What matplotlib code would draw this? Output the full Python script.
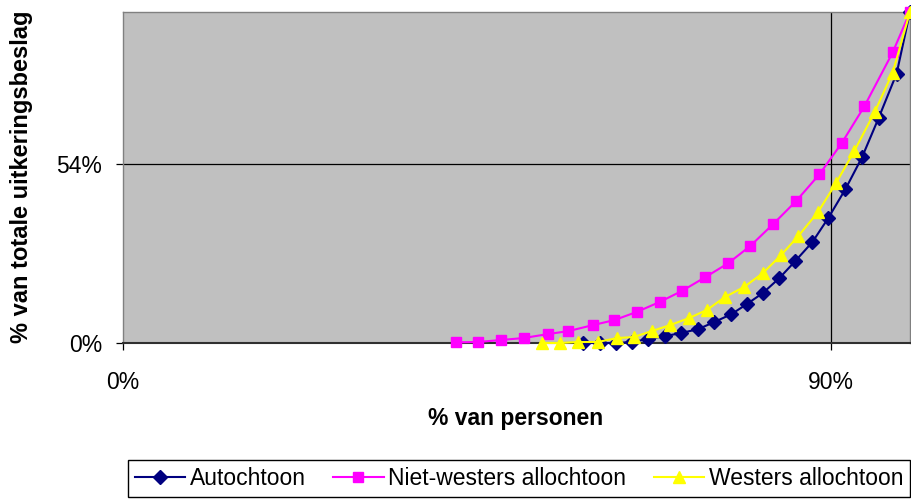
import matplotlib
matplotlib.use("Agg")
import matplotlib.pyplot as plt

plt.rcParams['font.family'] = ['Liberation Sans', 'DejaVu Sans']

# data (percent of persons, percent of total benefits)
auto_x = [58.4, 60.6, 62.6, 64.7, 66.7, 68.9, 70.9, 73.1, 75.1, 77.3, 79.3,
          81.3, 83.4, 85.4, 87.6, 89.6, 91.8, 93.9, 96.0, 98.3, 100.0]
auto_y = [0.0, 0.0, 0.0, 0.3, 1.2, 2.1, 3.0, 4.2, 6.3, 8.7, 11.8,
          15.1, 19.6, 24.7, 30.5, 37.7, 46.5, 56.1, 67.9, 81.4, 100.0]

nw_x = [42.3, 45.1, 48.0, 50.9, 54.0, 56.6, 59.7, 62.4, 65.3, 68.2, 71.0,
        74.0, 76.9, 79.7, 82.6, 85.5, 88.5, 91.3, 94.2, 97.8, 100.0]
nw_y = [0.2, 0.3, 0.9, 1.5, 2.7, 3.6, 5.4, 6.9, 9.4, 12.4, 15.7,
        19.9, 24.1, 29.3, 35.9, 42.8, 51.0, 60.3, 71.5, 87.8, 100.0]

w_x = [53.3, 55.5, 57.8, 60.3, 62.8, 64.9, 67.2, 69.5, 71.9, 74.2, 76.5,
       78.9, 81.3, 83.6, 85.8, 88.3, 90.6, 92.9, 95.5, 97.8, 100.0]
w_y = [0.0, 0.0, 0.3, 0.3, 1.5, 1.8, 3.6, 5.4, 7.5, 10.0, 13.9,
       16.9, 21.1, 26.5, 32.3, 39.5, 48.3, 57.9, 69.7, 81.7, 100.0]

labels = ["Autochtoon", "Niet-westers allochtoon", "Westers allochtoon"]
x_ticks = [0, 90]
y_ticks = [0, 54]

fig = plt.figure(figsize=(9.12, 5.0), dpi=100)
ax = fig.add_axes([123 / 912, 1 - 343 / 500, (910 - 123) / 912, (343 - 12) / 500])
ax.set_facecolor('#C0C0C0')

for v in x_ticks[1:]:
    ax.axvline(v, color='black', lw=0.9, zorder=1)
for v in y_ticks[1:]:
    ax.axhline(v, color='black', lw=0.9, zorder=1)

ax.plot(auto_x, auto_y, color='#000080', marker='D', ms=7, lw=1.5,
        label=labels[0], zorder=3, clip_on=False)
ax.plot(nw_x, nw_y, color='#FF00FF', marker='s', ms=7.5, lw=1.5,
        label=labels[1], zorder=4, clip_on=False)
ax.plot(w_x, w_y, color='#FFFF00', marker='^', ms=8.5, lw=1.5,
        label=labels[2], zorder=5, clip_on=False)

ax.set_xlim(0, 100)
ax.set_ylim(0, 100)
ax.set_xticks(x_ticks)
ax.set_xticklabels([f"{t}%" for t in x_ticks])
ax.set_yticks(y_ticks)
ax.set_yticklabels([f"{t}%" for t in y_ticks])
ax.tick_params(axis='x', length=5, width=0.9, pad=15, labelsize=16.5, color='black')
ax.tick_params(axis='y', length=5, width=0.9, pad=10, labelsize=16.5, color='black')

for s in ['top', 'right', 'left']:
    ax.spines[s].set_color('#808080')
    ax.spines[s].set_linewidth(1.0)
ax.spines['bottom'].set_color('#303030')
ax.spines['bottom'].set_linewidth(1.5)

fig.text(516 / 912, 1 - 418 / 500, "% van personen", ha='center', va='center',
         fontsize=16.5, fontweight='bold')
fig.text(22 / 912, 1 - 177 / 500, "% van totale uitkeringsbeslag", ha='center',
         va='center', rotation=90, fontsize=17, fontweight='bold')

fig.legend(loc='upper left', bbox_to_anchor=(128 / 912, 0.0, (910 - 128) / 912, 40 / 500),
           mode='expand', ncol=3, fontsize=16.5, frameon=True, fancybox=False,
           edgecolor='black', framealpha=1, borderaxespad=0, handlelength=2.2,
           handletextpad=0.2, columnspacing=0.3, borderpad=0.3)

fig.savefig("out.png", dpi=100)
